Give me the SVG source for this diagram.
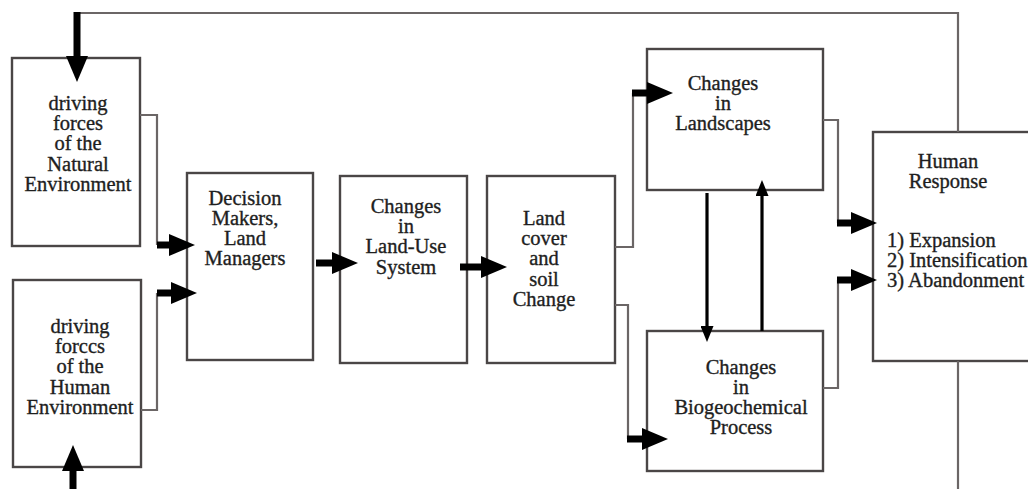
<svg xmlns="http://www.w3.org/2000/svg" width="1028" height="489" viewBox="0 0 1028 489">
<style>
.box{fill:#fff;stroke:#4a4646;stroke-width:2.4}
.t{font-family:"Liberation Serif","Times New Roman","DejaVu Serif",serif;font-size:20.5px;fill:#1e1e1e;stroke:#1e1e1e;stroke-width:0.35;text-anchor:middle}
.tl{font-family:"Liberation Serif","Times New Roman","DejaVu Serif",serif;font-size:20.5px;fill:#1e1e1e;stroke:#1e1e1e;stroke-width:0.35}
.wire{fill:none;stroke:#6b6666;stroke-width:2.2}
.fat{fill:none;stroke:#000;stroke-width:7;marker-end:url(#big)}
.thin{fill:none;stroke:#000;stroke-width:3.2;marker-end:url(#small)}
</style>
<defs>
<marker id="big" viewBox="0 0 26 22" markerWidth="26" markerHeight="22" markerUnits="userSpaceOnUse" refX="1" refY="11" orient="auto"><path d="M0,0 L26,11 L0,22 z" fill="#000"/></marker>
<marker id="small" viewBox="0 0 16 13" markerWidth="16" markerHeight="13" markerUnits="userSpaceOnUse" refX="1" refY="6.5" orient="auto"><path d="M0,0 L16,6.5 L0,13 z" fill="#000"/></marker>
</defs>
<rect width="1028" height="489" fill="#fff"/>
<g id="natural">
<rect class="box" x="12" y="58" width="128" height="188"/>
<text class="t" x="78" y="110">driving</text>
<text class="t" x="78" y="130">forces</text>
<text class="t" x="78" y="150">of the</text>
<text class="t" x="78" y="171">Natural</text>
<text class="t" x="78" y="191">Environment</text>
</g>
<g id="human">
<rect class="box" x="13" y="280" width="128" height="187"/>
<text class="t" x="80" y="333">driving</text>
<text class="t" x="80" y="353">forccs</text>
<text class="t" x="80" y="373">of the</text>
<text class="t" x="80" y="394">Human</text>
<text class="t" x="80" y="414">Environment</text>
</g>
<g id="decision">
<rect class="box" x="187" y="173" width="126" height="187"/>
<text class="t" x="245" y="205">Decision</text>
<text class="t" x="245" y="225">Makers,</text>
<text class="t" x="245" y="245">Land</text>
<text class="t" x="245" y="265">Managers</text>
</g>
<g id="landuse">
<rect class="box" x="340" y="176" width="127" height="187"/>
<text class="t" x="406" y="213">Changes</text>
<text class="t" x="406" y="233">in</text>
<text class="t" x="406" y="253">Land-Use</text>
<text class="t" x="406" y="274">System</text>
</g>
<g id="landcover">
<rect class="box" x="487" y="176" width="128" height="187"/>
<text class="t" x="544" y="225">Land</text>
<text class="t" x="544" y="245">cover</text>
<text class="t" x="544" y="265">and</text>
<text class="t" x="544" y="286">soil</text>
<text class="t" x="544" y="306">Change</text>
</g>
<g id="landscapes">
<rect class="box" x="647" y="49" width="176" height="141"/>
<text class="t" x="723" y="90">Changes</text>
<text class="t" x="723" y="110">in</text>
<text class="t" x="723" y="130">Landscapes</text>
</g>
<g id="biogeo">
<rect class="box" x="647" y="331" width="176" height="140"/>
<text class="t" x="741" y="374">Changes</text>
<text class="t" x="741" y="394">in</text>
<text class="t" x="741" y="414">Biogeochemical</text>
<text class="t" x="741" y="434">Process</text>
</g>
<g id="response">
<rect class="box" x="873" y="132" width="170" height="229"/>
<text class="t" x="948" y="168">Human</text>
<text class="t" x="948" y="188">Response</text>
<text class="tl" x="887" y="247">1) Expansion</text>
<text class="tl" x="887" y="267">2) Intensification</text>
<text class="tl" x="887" y="287">3) Abandonment</text>
</g>
<g id="connectors">
<path class="wire" d="M958,132 V13 H77"/>
<path class="fat" d="M77,12 V57"/>
<path class="wire" d="M958,361 V489"/>
<path class="fat" d="M73,489 V470"/>
<path class="wire" d="M140,115 H157 V245"/>
<path class="fat" d="M157,245 H170"/>
<path class="wire" d="M141,410 H157 V293"/>
<path class="fat" d="M157,293 H172"/>
<path class="fat" d="M316,263 H333"/>
<path class="fat" d="M460,267 H482"/>
<path class="wire" d="M615,247 H633 V93"/>
<path class="fat" d="M632,93 H648"/>
<path class="wire" d="M615,305 H628 V439"/>
<path class="fat" d="M627,439 H643"/>
<path class="thin" d="M707,193 V327"/>
<path class="thin" d="M762,331 V195"/>
<path class="wire" d="M823,120 H838 V223"/>
<path class="fat" d="M837,223 H852"/>
<path class="wire" d="M823,388 H838 V280"/>
<path class="fat" d="M837,280 H852"/>
</g>
</svg>
